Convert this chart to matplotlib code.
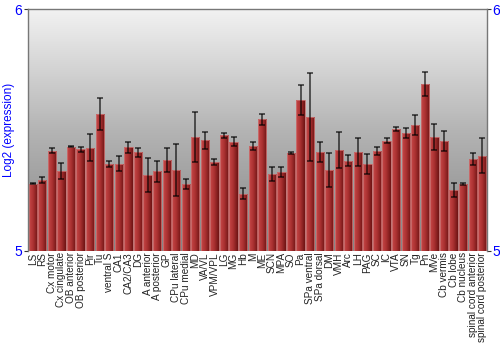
import matplotlib
matplotlib.use("Agg")
import matplotlib.pyplot as plt
from matplotlib.colors import LinearSegmentedColormap
import numpy as np

regions = ["LS", "RS", "Cx motor", "Cx cingulate", "OB anterior", "OB posterior",
           "Pir", "Tu", "ventral S", "CA1", "CA2/CA3", "DG", "A anterior",
           "A posterior", "GP", "CPu lateral", "CPu medial", "MD", "VA/VL",
           "VPM/VPL", "LG", "MG", "Hb", "M", "ME", "SCN", "MPA", "SO", "Pa",
           "SPa ventral", "SPa dorsal", "DM", "VMH", "Arc", "LH", "PAG", "SC",
           "IC", "VTA", "SN", "Tg", "Pn", "MVe", "Cb vermis", "Cb lobe",
           "Cb nucleus", "spinal cord anterior", "spinal cord posterior"]
expression = [5.278, 5.293, 5.415, 5.331, 5.430, 5.420, 5.426, 5.566, 5.361,
              5.361, 5.428, 5.408, 5.314, 5.329, 5.375, 5.336, 5.277, 5.470,
              5.457, 5.367, 5.478, 5.452, 5.236, 5.435, 5.545, 5.319, 5.328,
              5.405, 5.625, 5.554, 5.410, 5.335, 5.417, 5.373, 5.409, 5.360,
              5.412, 5.456, 5.504, 5.488, 5.521, 5.691, 5.471, 5.455, 5.252,
              5.277, 5.379, 5.394]
error = [0.002, 0.011, 0.012, 0.032, 0.002, 0.011, 0.056, 0.067, 0.012, 0.030,
         0.023, 0.019, 0.069, 0.044, 0.050, 0.107, 0.021, 0.104, 0.036, 0.012,
         0.011, 0.020, 0.023, 0.017, 0.023, 0.029, 0.021, 0.006, 0.061, 0.181,
         0.041, 0.072, 0.075, 0.023, 0.056, 0.041, 0.017, 0.009, 0.009, 0.019,
         0.040, 0.049, 0.054, 0.040, 0.030, 0.006, 0.025, 0.073]
y_min, y_max = 5, 6

plt.rcParams['font.family'] = ['Liberation Sans', 'DejaVu Sans']

fig = plt.figure(figsize=(5, 3.5), dpi=100)
ax = fig.add_axes([0.056, 0.283, 0.918, 0.691])

x = np.arange(len(regions))
ax.set_xlim(-0.5, len(regions) - 0.5)
ax.set_ylim(y_min, y_max)

# background: vertical gray gradient (dark at bottom, light at top)
bg = np.linspace(0, 1, 256).reshape(-1, 1)
bg_cmap = LinearSegmentedColormap.from_list("bg", ["#858585", "#b4b4b4", "#f2f2f2"])
ax.imshow(bg, cmap=bg_cmap, aspect="auto", origin="lower",
          extent=[-0.5, len(regions) - 0.5, y_min, y_max], zorder=0)

# bars with horizontal red gradient
bar_cmap = LinearSegmentedColormap.from_list("bar", ["#c84848", "#a83030", "#6e1414"])
grad = np.linspace(0, 1, 64).reshape(1, -1)
width = 0.86
bars = ax.bar(x, np.array(expression) - y_min, bottom=y_min, width=width,
              color="none", edgecolor="#c87070", linewidth=0.6, zorder=2)
for b in bars:
    bx, by = b.get_x(), b.get_y()
    im = ax.imshow(grad, cmap=bar_cmap, aspect="auto",
                   extent=[bx, bx + b.get_width(), by, by + b.get_height()], zorder=1)
    im.set_clip_path(b)

ax.errorbar(x, expression, yerr=error, fmt="none", ecolor="black", elinewidth=1.1,
            capsize=2.5, capthick=1.1, alpha=0.75, zorder=3)

ax.set_xticks(x)
ax.set_xticklabels(regions, rotation=90, fontsize=7.2, color="#222222")
ax.tick_params(axis="x", length=0, pad=1)

ax.set_yticks([5, 6])
ax.set_yticklabels(["5", "6"])
ax.tick_params(axis="y", labelcolor="blue", labelsize=10, length=3, color="#333333",
               pad=1, right=True, labelright=True)
ax.set_ylabel("Log2 (expression)", color="blue", fontsize=8.5, labelpad=0)

for s in ax.spines.values():
    s.set_color("#777777")
    s.set_linewidth(1)
ax.spines["bottom"].set_visible(False)

fig.savefig("out.png", dpi=100)
